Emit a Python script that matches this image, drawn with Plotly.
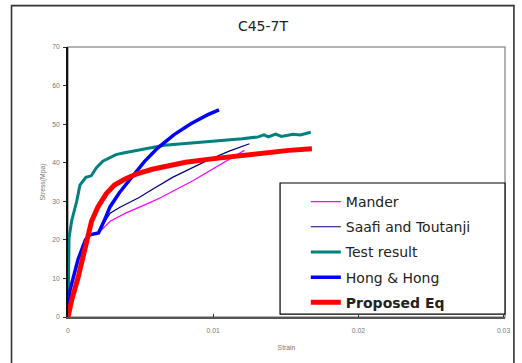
import plotly.graph_objects as go

# ---------------- data ----------------
mander_strain = [0, 0.00014, 0.0007, 0.0012, 0.0015, 0.0021, 0.0029, 0.004, 0.0056, 0.0064, 0.0086, 0.0111, 0.01215]
mander_stress = [0, 7.0, 15.0, 20.0, 21.3, 21.8, 24.8, 27.0, 29.6, 31.0, 35.3, 40.9, 43.2]

saafi_strain = [0, 0.00014, 0.0007, 0.0012, 0.0015, 0.0021, 0.0025, 0.0029, 0.00355, 0.0049, 0.0056, 0.0072, 0.0095, 0.0111, 0.0125]
saafi_stress = [0, 7.0, 15.0, 20.0, 21.3, 21.8, 24.5, 26.9, 28.4, 31.0, 32.6, 36.2, 40.4, 43.0, 44.9]

test_strain = [0, 0.00002, 0.00007, 0.00025, 0.0006, 0.00082, 0.00123, 0.0016, 0.00196, 0.0024, 0.0033, 0.0039, 0.0045, 0.0058,
               0.00663, 0.0081, 0.0103, 0.0111, 0.012, 0.0131, 0.0135, 0.0138, 0.0143, 0.0147, 0.0152, 0.0155, 0.0160, 0.01672]
test_stress = [0, 14.0, 20.5, 24.9, 30.0, 34.2, 36.2, 36.6, 38.7, 40.4, 42.1, 42.6, 43.0, 43.8,
               44.5, 45.0, 45.7, 45.8, 46.2, 46.7, 47.2, 46.7, 47.4, 46.8, 47.2, 47.4, 47.2, 47.9]

hong_strain = [0, 0.00014, 0.0007, 0.0012, 0.0015, 0.0021, 0.0025, 0.0029, 0.00355, 0.00435, 0.00526, 0.00617, 0.00731,
               0.00846, 0.0096, 0.0104]
hong_stress = [0, 7.0, 15.0, 20.0, 21.3, 21.8, 25.0, 28.6, 32.3, 36.2, 40.3, 43.8, 47.3,
               50.1, 52.4, 53.7]

prop_strain = [0, 0.00025, 0.0007, 0.00105, 0.00132, 0.00162, 0.00207, 0.00264, 0.0032, 0.0036, 0.0039, 0.00424, 0.0048, 0.0058,
               0.0067, 0.0081, 0.0099, 0.0111, 0.0124, 0.0132, 0.0145, 0.0152, 0.0168]
prop_stress = [0, 4.3, 10.3, 16.2, 21.0, 24.8, 28.6, 32.0, 34.2, 35.2, 35.7, 36.3, 37.2, 38.3,
               39.1, 40.1, 41.0, 41.5, 42.1, 42.5, 43.0, 43.2, 43.6]

x_ticks = [0, 0.01, 0.02, 0.03]
x_tick_labels = ["0", "0.01", "0.02", "0.03"]
y_ticks = [0, 10, 20, 30, 40, 50, 60, 70]

series = [
    ("Mander", mander_strain, mander_stress, "#FF00FF", 1.2),
    ("Saafi and Toutanji", saafi_strain, saafi_stress, "#000080", 1.2),
    ("Test result", test_strain, test_stress, "#008080", 3),
    ("Hong &amp; Hong", hong_strain, hong_stress, "#0000FF", 3.5),
    ("<b>Proposed Eq</b>", prop_strain, prop_stress, "#FF0000", 5),
]

fig = go.Figure()
for i, (name, xs, ys, col, w) in enumerate(series):
    fig.add_trace(go.Scatter(x=xs, y=ys, mode="lines", name=name, legendgroup=f"g{i}",
                             line=dict(color=col, width=w)))

W, H = 522, 363
L, R, T, B = 68, 13, 47, 42
pw, ph = W - L - R, H - T - B

def px(x):
    return (x - L) / pw

def py(y):
    return (H - B - y) / ph

shapes = [
    # outer frame
    dict(type="rect", xref="paper", yref="paper", x0=px(11), x1=px(518), y0=py(372), y1=py(5),
         line=dict(color="#333333", width=1.6), fillcolor="rgba(0,0,0,0)", layer="below"),
    # plot frame
    dict(type="rect", xref="paper", yref="paper", x0=0, x1=1, y0=0, y1=1,
         line=dict(color="#999999", width=1.5), fillcolor="rgba(0,0,0,0)", layer="below"),
    # legend box
    dict(type="rect", xref="paper", yref="paper", x0=px(282), x1=px(509), y0=py(318), y1=py(185),
         line=dict(color="#000000", width=1.2), fillcolor="white", layer="below"),
]

fig.update_layout(
    width=W, height=H,
    margin=dict(l=L, r=R, t=T, b=B),
    paper_bgcolor="white", plot_bgcolor="rgba(0,0,0,0)",
    title=dict(text="C45-7T", x=263 / W, xanchor="center", y=1 - 26 / H, yanchor="middle",
               font=dict(family="DejaVu Sans", size=14, color="#222222")),
    shapes=shapes,
    showlegend=True,
    legend=dict(x=px(308), xanchor="left", y=py(188), yanchor="top",
                bgcolor="rgba(0,0,0,0)", borderwidth=0, tracegroupgap=4,
                font=dict(family="DejaVu Sans", size=14, color="#222222")),
    xaxis=dict(range=[0, 0.0301], tickvals=x_ticks, ticktext=x_tick_labels,
               showgrid=False, zeroline=False, showline=True, linecolor="#555555", linewidth=2,
               ticks="inside", ticklen=3, tickcolor="#333333", ticklabelstandoff=6,
               tickfont=dict(family="Liberation Sans", size=6.8, color="#777777"),
               title=dict(text="Strain", standoff=12,
                          font=dict(family="Liberation Sans", size=6.8, color="#777777"))),
    yaxis=dict(range=[0, 70], tickvals=y_ticks,
               showgrid=False, zeroline=False, showline=True, linecolor="#111111", linewidth=1.5,
               ticks="outside", ticklen=3, tickcolor="#333333", ticklabelstandoff=2,
               tickfont=dict(family="Liberation Sans", size=6.8, color="#777777"),
               title=dict(text="Stress(Mpa)", standoff=6,
                          font=dict(family="Liberation Sans", size=6.8, color="#777777"))),
)

fig.write_html("out.html")
